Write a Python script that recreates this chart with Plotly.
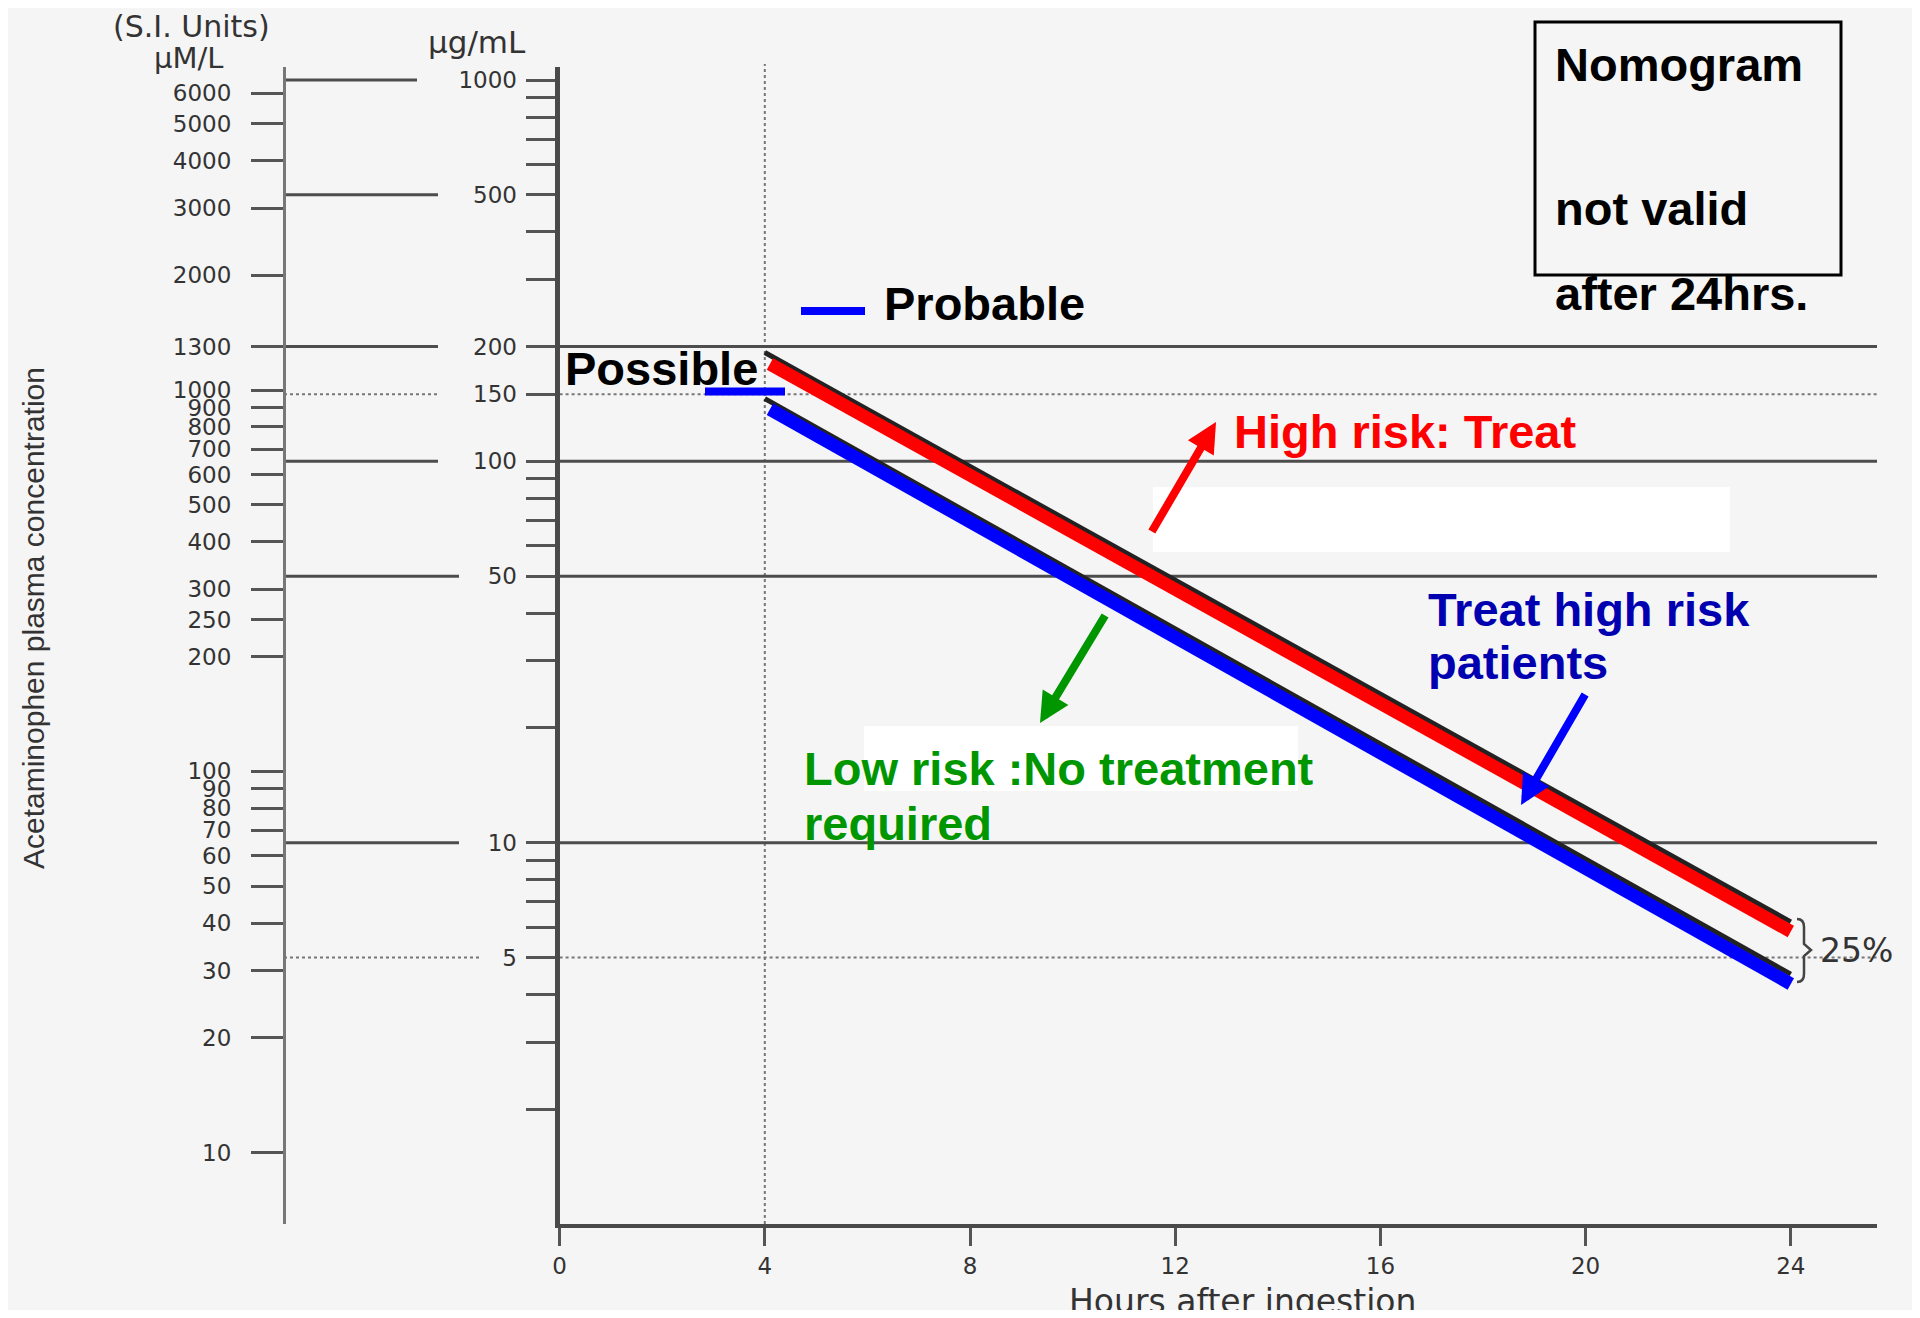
import math
import plotly.graph_objects as go

# the page body has an 8px margin, so the figure starts 8px in from the window edge
OFF = 8
W, H = 1920 - 2 * OFF, 1318 - 2 * OFF

# ---------------- data ----------------
HOUR_TICKS = [0, 4, 8, 12, 16, 20, 24]
UG_MAJOR = [1000, 500, 200, 150, 100, 50, 10, 5]
UG_MINOR = [900, 800, 700, 600, 400, 300, 90, 80, 70, 60, 40, 30, 20, 9, 8, 7, 6, 4, 3, 2]
UM_TICKS = [6000, 5000, 4000, 3000, 2000, 1300, 1000, 900, 800, 700, 600, 500, 400,
            300, 250, 200, 100, 90, 80, 70, 60, 50, 40, 30, 20, 10]
UM_PER_UG = 6.5

# original nomogram lines (hours, ug/mL) as printed under the highlights
LINE_HOURS = [4, 24]
PROBABLE_ORIG = [193, 6.2]
POSSIBLE_ORIG = [146, 4.52]
# coloured highlight lines drawn over them
HL_HOURS = [4.1, 24]
PROBABLE_HL = [180, 5.85]
POSSIBLE_HL = [137, 4.26]

GRID_SOLID = [200, 100, 50, 10]
GRID_DOT = [150, 5]
GRID_LEFT_ONLY = [1000, 500]

# ---------------- helpers (screen pixels -> paper) ----------------
def px(x):
    return (x - OFF) / W

def py(y):
    return 1 - (y - OFF) / H

X0_PX, X1_PX = 559.6, 1877.0
HOUR_PX = 51.3
X_MAX = (X1_PX - X0_PX) / HOUR_PX
Y_TOP_PX, Y_BOT_PX = 66.7, 1224.0
Y_LOG_MAX = 3.035
UM_AXIS_PX = 284.0

TICK_FONT = dict(family="DejaVu Sans", size=23, color="#333333")
BOLD = "Liberation Sans, Arial, sans-serif"

fig = go.Figure()

fig.add_trace(go.Scatter(x=LINE_HOURS, y=PROBABLE_ORIG, mode="lines",
                         line=dict(color="#222222", width=5), hoverinfo="skip"))
fig.add_trace(go.Scatter(x=LINE_HOURS, y=POSSIBLE_ORIG, mode="lines",
                         line=dict(color="#222222", width=5), hoverinfo="skip"))
fig.add_trace(go.Scatter(x=HL_HOURS, y=PROBABLE_HL, mode="lines",
                         line=dict(color="#ff0000", width=13), hoverinfo="skip"))
fig.add_trace(go.Scatter(x=HL_HOURS, y=POSSIBLE_HL, mode="lines",
                         line=dict(color="#0000ff", width=13), hoverinfo="skip"))
# dummy trace so the uM axis is drawn
fig.add_trace(go.Scatter(x=[None], y=[None], yaxis="y2", hoverinfo="skip"))

shapes = []
# frame
shapes.append(dict(type="rect", xref="paper", yref="paper", x0=px(OFF), x1=px(1917),
                   y0=py(1318), y1=py(6), fillcolor="#f5f5f5", line=dict(width=0),
                   layer="below"))
for (xa, ya, xb, yb) in [(1917, 6, 1917, 1318), (OFF, 1316.5, 1917, 1316.5)]:
    shapes.append(dict(type="line", xref="paper", yref="paper", x0=px(xa), x1=px(xb),
                       y0=py(ya), y1=py(yb), line=dict(color="#333333", width=2),
                       layer="below"))

# gridlines (left part stops short of the ug/mL labels)
LABEL_RIGHT = 515
for v in GRID_SOLID + GRID_DOT + GRID_LEFT_ONLY:
    dotted = v in GRID_DOT
    st = dict(color="#777777" if dotted else "#4d4d4d", width=2 if dotted else 3,
              dash="dot" if dotted else "solid")
    end_px = LABEL_RIGHT - len(str(v)) * 21 - 14
    shapes.append(dict(type="line", xref="paper", yref="y", x0=px(UM_AXIS_PX), x1=px(end_px),
                       y0=v, y1=v, line=st, layer="below"))
    if v not in GRID_LEFT_ONLY:
        shapes.append(dict(type="line", xref="x", yref="y", x0=0, x1=X_MAX,
                           y0=v, y1=v, line=st, layer="below"))

# vertical line at 4 h
shapes.append(dict(type="line", xref="x", yref="paper", x0=4, x1=4,
                   y0=py(Y_BOT_PX), y1=py(64), line=dict(color="#777777", width=2, dash="dot"),
                   layer="below"))

# white cover boxes
for (xa, ya, xb, yb) in [(1153, 487, 1730, 552), (864, 726, 1298, 791)]:
    shapes.append(dict(type="rect", xref="paper", yref="paper", x0=px(xa), x1=px(xb),
                       y0=py(yb), y1=py(ya), fillcolor="#ffffff", line=dict(width=0),
                       layer="below"))

# nomogram box
shapes.append(dict(type="rect", xref="paper", yref="paper", x0=px(1535), x1=px(1841),
                   y0=py(275), y1=py(22), line=dict(color="#000000", width=3)))

# legend swatches
for (xa, xb, yy) in [(801, 865, 311), (705, 785, 391.5)]:
    shapes.append(dict(type="line", xref="paper", yref="paper", x0=px(xa), x1=px(xb),
                       y0=py(yy), y1=py(yy), line=dict(color="#0000ff", width=8)))

# 25% bracket
pts = "M {a},{b} Q {c},{b} {c},{d} L {c},{e} L {f},{g} L {c},{h} L {c},{i} Q {c},{j} {a},{j}".format(
    a=px(1797), b=py(919), c=px(1804), d=py(927), e=py(944), f=px(1811), g=py(950),
    h=py(956), i=py(974), j=py(982))
shapes.append(dict(type="path", xref="paper", yref="paper", path=pts,
                   line=dict(color="#444444", width=2.5)))

ann = []

def text(t, x, y, size, color="#000000", family=BOLD, xanchor="left", bold=True, angle=0):
    ann.append(dict(text=("<b>%s</b>" % t) if bold else t, x=px(x), y=py(y),
                    xref="paper", yref="paper", xanchor=xanchor, yanchor="middle",
                    showarrow=False, textangle=angle,
                    font=dict(family=family, size=size, color=color)))

text("Nomogram", 1553, 64.5, 47)
text("not valid", 1553, 208, 47)
text("after 24hrs.", 1553, 293, 47)
text("Probable", 882, 303.5, 47)
text("Possible", 563, 368, 47)
text("High risk: Treat", 1232, 431.5, 47, color="#ff0000")
text("Treat high risk", 1426, 609, 47, color="#0000b0")
text("patients", 1426, 663, 47, color="#0000b0")
text("Low risk :No treatment", 802, 768, 47, color="#009600")
text("required", 802, 823, 47, color="#009600")

text("(S.I. Units)", 191, 27, 30, color="#333333", family="DejaVu Sans", xanchor="center", bold=False)
text("\u00b5M/L", 188, 58, 29, color="#333333", family="DejaVu Sans", xanchor="center", bold=False)
text("\u00b5g/mL", 477, 42, 31, color="#333333", family="DejaVu Sans", xanchor="center", bold=False)
text("25%", 1818, 950, 33, color="#333333", family="DejaVu Sans", bold=False)
text("Hours after ingestion", 1242, 1301, 33, color="#333333", family="DejaVu Sans",
     xanchor="center", bold=False)
text("Acetaminophen plasma concentration", 34, 618, 30, color="#333333",
     family="Liberation Sans, Arial, sans-serif", xanchor="center", bold=False, angle=-90)

# arrows (head, tail) in pixels
for (hx, hy, tx, ty, col) in [(1216, 422, 1151, 533, "#ff0000"),
                              (1040, 723, 1106, 614, "#009600"),
                              (1521, 805, 1586, 693, "#0000ff")]:
    ann.append(dict(text="", x=px(hx), y=py(hy), xref="paper", yref="paper",
                    ax=tx - hx, ay=ty - hy, axref="pixel", ayref="pixel",
                    showarrow=True, arrowhead=2, arrowsize=0.75, arrowwidth=8,
                    arrowcolor=col, standoff=0, startstandoff=0))

fig.update_layout(
    width=W, height=H, autosize=False,
    margin=dict(l=0, r=0, t=0, b=0),
    paper_bgcolor="#ffffff", plot_bgcolor="rgba(0,0,0,0)",
    showlegend=False,
    shapes=shapes, annotations=ann,
    xaxis=dict(domain=[px(X0_PX), px(X1_PX)], range=[0, X_MAX], tickvals=HOUR_TICKS,
               ticks="outside", ticklen=18, tickwidth=3, tickcolor="#555555",
               showline=True, linecolor="#4a4a4a", linewidth=4, showgrid=False,
               zeroline=False, tickfont=TICK_FONT, anchor="y", automargin=False,
               ticklabelstandoff=0),
    yaxis=dict(type="log", domain=[py(Y_BOT_PX), py(Y_TOP_PX)], range=[0, Y_LOG_MAX],
               tickvals=UG_MAJOR + UG_MINOR,
               ticktext=[str(v) for v in UG_MAJOR] + [""] * len(UG_MINOR),
               ticks="outside", ticklen=29, tickwidth=3, tickcolor="#555555",
               showline=True, linecolor="#4a4a4a", linewidth=5, showgrid=False,
               zeroline=False, tickfont=TICK_FONT, anchor="x", automargin=False,
               ticklabelstandoff=4),
    yaxis2=dict(type="log", overlaying="y", anchor="free", position=px(UM_AXIS_PX), side="left",
                range=[math.log10(UM_PER_UG), Y_LOG_MAX + math.log10(UM_PER_UG)],
                tickvals=UM_TICKS, ticktext=[str(v) for v in UM_TICKS],
                ticks="outside", ticklen=32, tickwidth=3, tickcolor="#555555",
                showline=True, linecolor="#777777", linewidth=3, showgrid=False,
                zeroline=False, tickfont=TICK_FONT, automargin=False,
                ticklabelstandoff=15),
)

fig.write_html("out.html")
